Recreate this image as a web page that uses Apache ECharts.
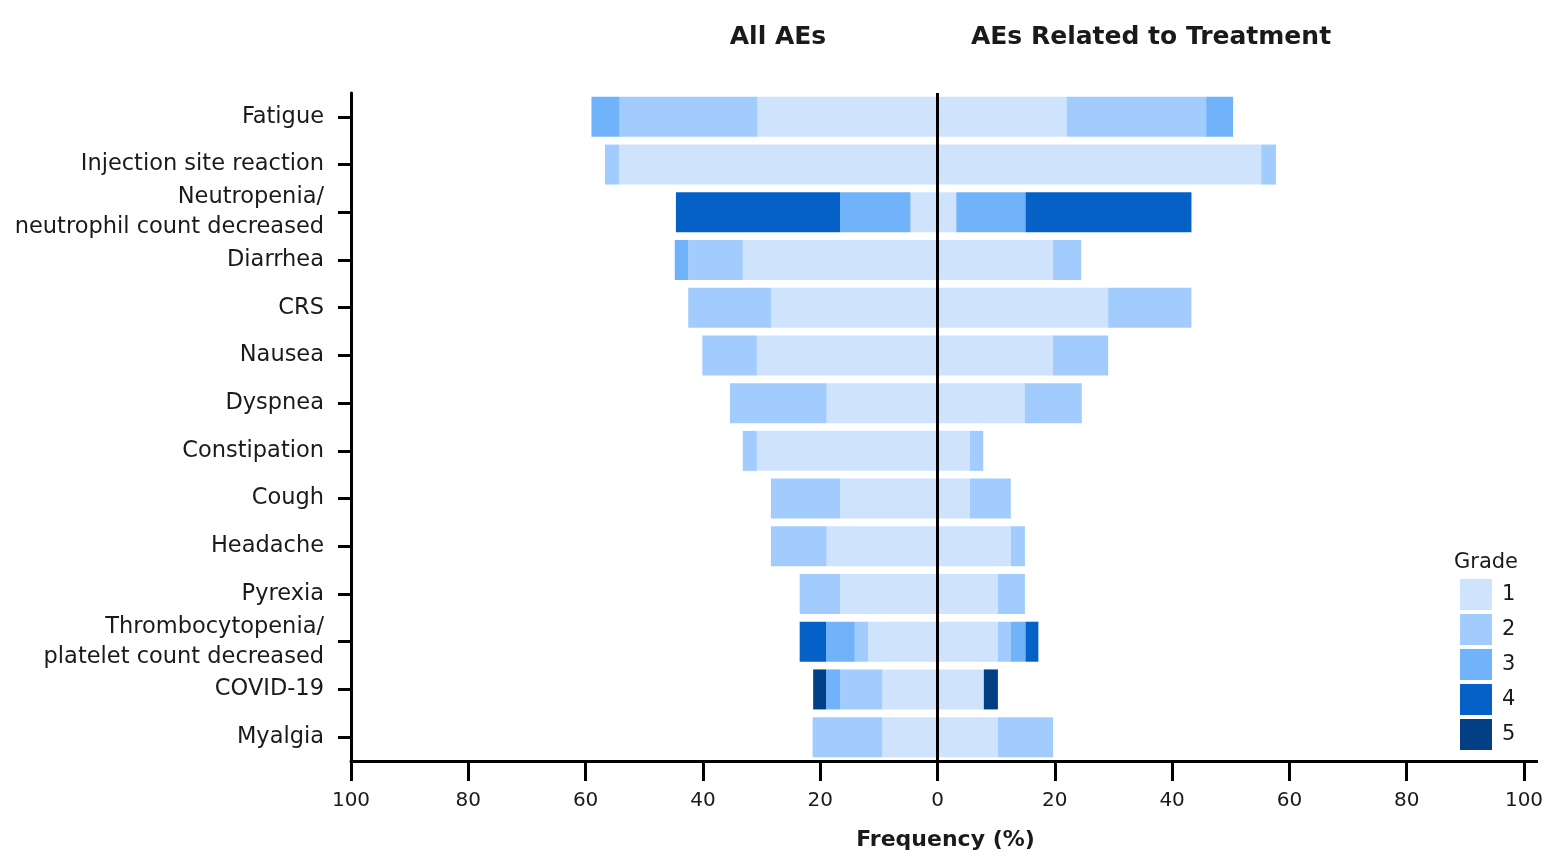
<!DOCTYPE html>
<html>
<head>
<meta charset="utf-8">
<script src="https://cdn.jsdelivr.net/npm/echarts@6/dist/echarts.min.js"></script>
<style>html,body{margin:0;padding:0;background:#fff;overflow:hidden}#c{width:1568px;height:857px}</style>
</head>
<body>
<div id="c"></div>
<script>
const categories = ['Fatigue','Injection site reaction','Neutropenia/\nneutrophil count decreased','Diarrhea','CRS','Nausea','Dyspnea','Constipation','Cough','Headache','Pyrexia','Thrombocytopenia/\nplatelet count decreased','COVID-19','Myalgia'];
const grades = ['1','2','3','4','5'];
const xTicks = [-100,-80,-60,-40,-20,0,20,40,60,80,100];
// All AEs (%), by grade
const allG1 = [30.7, 54.3, 4.6, 33.2, 28.4, 30.8, 18.9, 30.8, 16.6, 18.9, 16.6, 11.8, 9.4, 9.4];
const allG2 = [23.5, 2.4, 0, 9.3, 14.1, 9.3, 16.5, 2.4, 11.8, 9.5, 6.9, 2.3, 7.2, 11.9];
const allG3 = [4.8, 0, 12.0, 2.3, 0, 0, 0, 0, 0, 0, 0, 4.9, 2.4, 0];
const allG4 = [0, 0, 28.0, 0, 0, 0, 0, 0, 0, 0, 0, 4.5, 0, 0];
const allG5 = [0, 0, 0, 0, 0, 0, 0, 0, 0, 0, 0, 0, 2.2, 0];
// AEs related to treatment (%), by grade
const relG1 = [22.0, 55.2, 3.2, 19.7, 29.1, 19.7, 14.9, 5.5, 5.5, 12.5, 10.3, 10.3, 7.9, 10.3];
const relG2 = [23.8, 2.5, 0, 4.8, 14.2, 9.4, 9.7, 2.3, 7.0, 2.4, 4.6, 2.2, 0, 9.4];
const relG3 = [4.6, 0, 11.8, 0, 0, 0, 0, 0, 0, 0, 0, 2.5, 0, 0];
const relG4 = [0, 0, 28.3, 0, 0, 0, 0, 0, 0, 0, 0, 2.2, 0, 0];
const relG5 = [0, 0, 0, 0, 0, 0, 0, 0, 0, 0, 0, 0, 2.4, 0];

const colors = ['#cfe4fc', '#a1ccfd', '#71b3fb', '#0561c6', '#033f84'];
const allData = [allG1, allG2, allG3, allG4, allG5];
const relData = [relG1, relG2, relG3, relG4, relG5];
const FONT = '"DejaVu Sans", "Liberation Sans", Arial, sans-serif';

const series = [];
grades.forEach((g, i) => {
  series.push({
    name: g, type: 'bar', stack: 'all', barWidth: 40,
    itemStyle: { color: colors[i] },
    data: allData[i].map(v => -v)
  });
});
grades.forEach((g, i) => {
  const s = {
    name: g, type: 'bar', stack: 'all', barWidth: 40,
    itemStyle: { color: colors[i] },
    data: relData[i].slice()
  };
  if (i === 0) {
    s.markLine = {
      silent: true, symbol: 'none', label: { show: false },
      lineStyle: { color: '#000', width: 3, type: 'solid' },
      data: [{ xAxis: 0 }]
    };
  }
  series.push(s);
});

const chart = echarts.init(document.getElementById('c'), null, { width: 1568, height: 857 });
chart.setOption({
  animation: false,
  backgroundColor: '#fff',
  textStyle: { fontFamily: FONT },
  grid: { left: 351, width: 1173, top: 93, height: 668, containLabel: false, outerBoundsMode: 'none' },
  xAxis: {
    type: 'value', min: xTicks[0], max: xTicks[xTicks.length - 1], interval: 20,
    splitLine: { show: false },
    axisLine: { show: true, onZero: false, lineStyle: { color: '#000', width: 3 } },
    axisTick: { show: true, length: 20, lineStyle: { color: '#000', width: 3 } },
    axisLabel: { fontSize: 20, color: '#1a1a1a', margin: 30, fontFamily: FONT,
      formatter: v => String(Math.abs(v)) },
    name: 'Frequency (%)', nameLocation: 'middle', nameGap: 68,
    nameTextStyle: { fontSize: 22, fontWeight: 'bold', color: '#1a1a1a', fontFamily: FONT, padding: [0, 0, 0, 16] }
  },
  yAxis: {
    type: 'category', data: categories, inverse: true,
    axisLine: { show: true, onZero: false, lineStyle: { color: '#000', width: 3 } },
    axisTick: { show: true, alignWithLabel: true, length: 13, lineStyle: { color: '#000', width: 3 } },
    axisLabel: { fontSize: 22.5, color: '#1a1a1a', margin: 27, lineHeight: 30, fontFamily: FONT, align: 'right',
      padding: [10, 0, 0, 0] }
  },
  legend: {
    data: grades, orient: 'vertical', left: 1460, top: 579, padding: 0,
    itemWidth: 32, itemHeight: 31, itemGap: 4, icon: 'rect', selectedMode: false,
    textStyle: { fontSize: 21, color: '#1a1a1a', fontFamily: FONT, padding: [4, 0, 0, 5] }
  },
  graphic: [
    { type: 'text', x: 778, y: 37, style: { text: 'All AEs', font: 'bold 25px ' + FONT, fill: '#1a1a1a', textAlign: 'center', textVerticalAlign: 'middle' } },
    { type: 'text', x: 1151, y: 37, style: { text: 'AEs Related to Treatment', font: 'bold 25px ' + FONT, fill: '#1a1a1a', textAlign: 'center', textVerticalAlign: 'middle' } },
    { type: 'text', x: 1486, y: 563, style: { text: 'Grade', font: '21px ' + FONT, fill: '#1a1a1a', textAlign: 'center', textVerticalAlign: 'middle' } },
    { type: 'line', shape: { x1: 1522, y1: 761.5, x2: 1538, y2: 761.5 }, style: { stroke: '#000', lineWidth: 3 } }
  ],
  series: series
});
</script>
</body>
</html>
